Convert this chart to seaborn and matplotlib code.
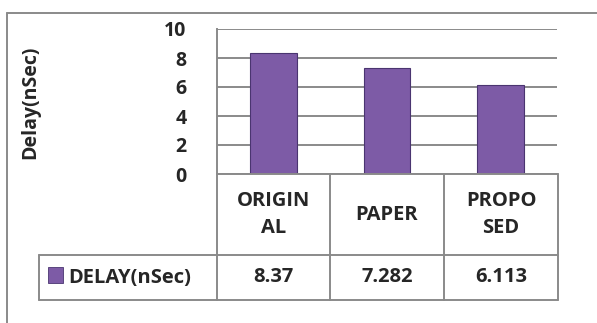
import matplotlib
matplotlib.use('Agg')
import matplotlib.pyplot as plt
import seaborn as sns
from matplotlib.patches import Rectangle
from matplotlib.lines import Line2D

# data
categorias = ['ORIGINAL', 'PAPER', 'PROPOSED']
rotulos_tabela = ['ORIGIN\nAL', 'PAPER', 'PROPO\nSED']
valores = [8.37, 7.282, 6.113]
valores_txt = ['8.37', '7.282', '6.113']
serie = 'DELAY(nSec)'

sns.set_theme(style='white')
plt.rcParams['font.family'] = ['Open Sans', 'DejaVu Sans']
plt.rcParams['font.weight'] = 'bold'

COR_BARRA = '#7d5ba6'
CINZA = '#8a8a8a'
FS = 14.5
FS_EIXO = 14

W, H = 597, 323
fig = plt.figure(figsize=(W / 100, H / 100), dpi=100)

# eixo do grafico em pixels (esq, topo, dir, base)
x0, y0, x1, y1 = 217, 29, 557, 174
ax = fig.add_axes([x0 / W, 1 - y1 / H, (x1 - x0) / W, (y1 - y0) / H])

sns.barplot(x=categorias, y=valores, color=COR_BARRA, width=0.41,
            edgecolor='#4a3570', linewidth=0.8, saturation=1, ax=ax)

ax.set_ylim(0, 10)
ax.set_xlim(-0.5, 2.5)
ax.set_yticks([0, 2, 4, 6, 8, 10])
ax.yaxis.grid(True, color=CINZA, linewidth=1.4)
ax.set_axisbelow(True)
for s in ['top', 'right', 'bottom']:
    ax.spines[s].set_visible(False)
ax.spines['left'].set_color(CINZA)
ax.spines['left'].set_linewidth(1.4)
ax.set_xticks([])
ax.set_xlabel('')
ax.set_ylabel('')
ax.tick_params(axis='y', length=0, pad=22, labelsize=FS_EIXO)
for t in ax.get_yticklabels():
    t.set_fontweight('bold')

# rotulo do eixo y
fig.text(30 / W, 1 - 102 / H, 'Delay(nSec)', rotation=90, ha='center', va='center',
         fontsize=FS_EIXO, fontweight='bold')

# tabela de dados (coordenadas em pixels da figura)
def px(x, y):
    return x / W, 1 - y / H

linha = dict(color=CINZA, linewidth=1.4, transform=fig.transFigure)
cols = [217, 330, 444, 558]
topo_cab, base_cab, base_dados = 174, 255, 300
leg_esq = 39

# linhas horizontais
for y in [base_cab, base_dados]:
    fig.add_artist(Line2D([px(leg_esq, y)[0], px(cols[-1], y)[0]],
                          [px(0, y)[1]] * 2, **linha))
fig.add_artist(Line2D([px(cols[0], 0)[0], px(cols[-1], 0)[0]],
                      [px(0, topo_cab)[1]] * 2, **linha))
# linhas verticais
for x in cols:
    fig.add_artist(Line2D([px(x, 0)[0]] * 2,
                          [px(0, topo_cab)[1], px(0, base_dados)[1]], **linha))
fig.add_artist(Line2D([px(leg_esq, 0)[0]] * 2,
                      [px(0, base_cab)[1], px(0, base_dados)[1]], **linha))

for i, (rot, vtxt) in enumerate(zip(rotulos_tabela, valores_txt)):
    cx = (cols[i] + cols[i + 1]) / 2
    fig.text(*px(cx, (topo_cab + base_cab) / 2), rot, ha='center', va='center',
             fontsize=FS, fontweight='bold', linespacing=1.5)
    fig.text(*px(cx, (base_cab + base_dados) / 2), vtxt, ha='center', va='center',
             fontsize=FS, fontweight='bold')

# legenda na tabela
fig.add_artist(Rectangle(px(48, 283), 15 / W, 16 / H, transform=fig.transFigure,
                         facecolor=COR_BARRA, edgecolor='#4a3570', linewidth=0.6))
fig.text(*px(68, (base_cab + base_dados) / 2), serie, ha='left', va='center',
         fontsize=FS, fontweight='bold')

# moldura externa
fig.add_artist(Line2D([px(7, 0)[0], 1.0], [px(0, 13)[1]] * 2, **linha))
fig.add_artist(Line2D([px(7, 0)[0]] * 2, [px(0, 13)[1], 0.0], **linha))

fig.savefig('out.png', dpi=100)
